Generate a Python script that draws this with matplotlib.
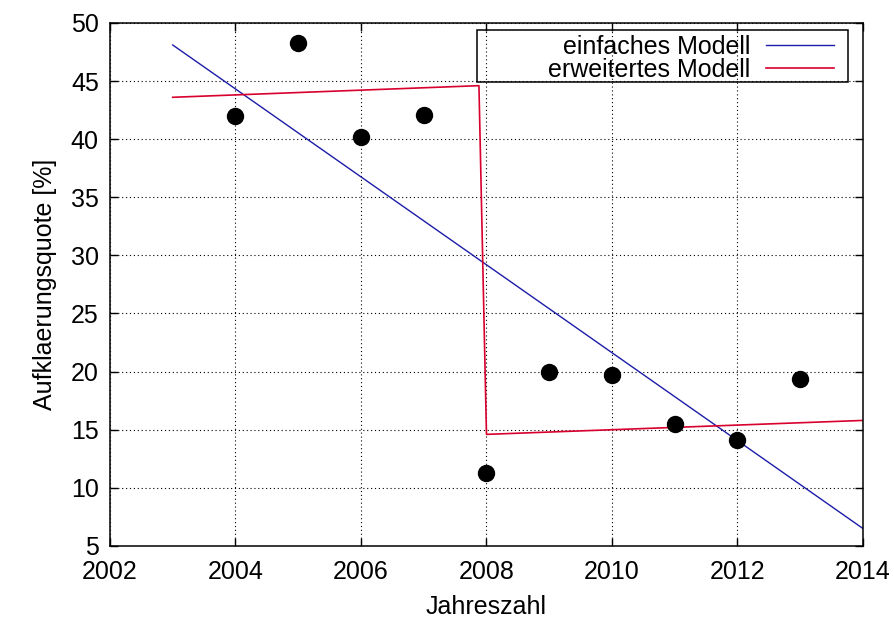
import numpy as np
import matplotlib.pyplot as plt
from matplotlib.patches import Rectangle

# Data
jahre = [2004, 2005, 2006, 2007, 2008, 2009, 2010, 2011, 2012, 2013]
quote = [42.0, 48.3, 40.2, 42.1, 11.3, 20.0, 19.7, 15.5, 14.1, 19.4]

# einfaches Modell (linear)
einfach_x = [2003, 2014]
einfach_y = [48.1, 6.5]

# erweitertes Modell (with jump at 2008)
erweitert_x = [2003, 2007.88, 2008.0, 2014]
erweitert_y = [43.6, 44.6, 14.6, 15.8]

plt.rcParams['font.family'] = ['Liberation Sans', 'DejaVu Sans']
plt.rcParams['font.size'] = 18

fig = plt.figure(figsize=(8.94, 6.19), dpi=100)
ax = fig.add_axes([0.123, 0.118, 0.8423, 0.845])

ax.plot(jahre, quote, 'o', color='black', markersize=11.5, zorder=3, label='_nolegend_')
ax.plot(einfach_x, einfach_y, color='#1c1ca8', lw=1.0, label='einfaches Modell')
ax.plot(erweitert_x, erweitert_y, color='#d8002c', lw=1.2, label='erweitertes Modell')

ax.set_xlim(2002, 2014)
ax.set_ylim(5, 50)
ax.set_xticks(np.arange(2002, 2015, 2))
ax.set_yticks(np.arange(5, 51, 5))
ax.set_xlabel('Jahreszahl', labelpad=8)
ax.set_ylabel('Aufklaerungsquote [%]', labelpad=10)

ax.grid(True, color='black', linestyle=(0, (1, 2.5)), linewidth=0.8)
ax.tick_params(direction='in', length=6, width=1, top=True, right=True)
ax.tick_params(axis='x', pad=10)
ax.tick_params(axis='y', pad=8)
for s in ax.spines.values():
    s.set_linewidth(1.1)

leg = ax.legend(loc='upper right', bbox_to_anchor=(0.988, 1.015), frameon=False,
                markerfirst=False, handlelength=2.7, handletextpad=0.65,
                labelspacing=-0.05, borderpad=0.3)
ax.add_patch(Rectangle((0.4874, 0.8872), 0.4926, 0.0994, transform=ax.transAxes,
                       fill=False, edgecolor='black', lw=1.1, zorder=4))

fig.savefig('out.png', dpi=100)
